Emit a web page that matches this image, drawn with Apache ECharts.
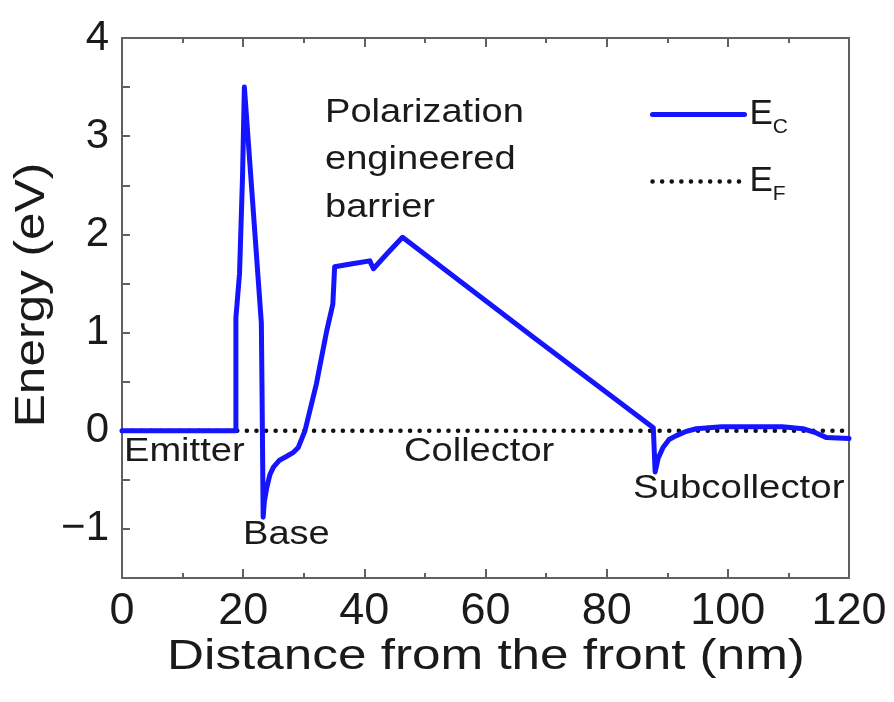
<!DOCTYPE html>
<html>
<head>
<meta charset="utf-8">
<title>Energy band diagram</title>
<script src="https://cdn.jsdelivr.net/npm/echarts@6/dist/echarts.min.js"></script>
<style>
  html, body { margin: 0; padding: 0; background: #fff; }
</style>
</head>
<body>
<div id="main" style="width:894px;height:702px;"></div>
<script>
// conduction band edge: [distance nm, energy eV]
var ecPoints = [
  [0, 0], [18.8, 0], [18.8, 1.15], [19.4, 1.6], [19.9, 2.6], [20.2, 3.5],
  [23.0, 1.1], [23.1, 0.5], [23.3, -0.88], [23.5, -0.72], [23.9, -0.58],
  [24.4, -0.45], [25.0, -0.37], [26.0, -0.3], [27.2, -0.26], [28.3, -0.22],
  [29.1, -0.17], [30.2, 0], [32.1, 0.48], [33.8, 1.02], [34.8, 1.29],
  [35.1, 1.67], [38.0, 1.7], [40.9, 1.73], [41.5, 1.65], [43.7, 1.80],
  [46.3, 1.97], [68.4, 0.93], [87.7, 0.03], [88.0, -0.42], [88.5, -0.28],
  [89.3, -0.17], [90.3, -0.09], [91.5, -0.05], [93.0, -0.01], [94.8, 0.02],
  [99.0, 0.04], [104.2, 0.04], [109.0, 0.04], [112.4, 0.02], [114.5, -0.02],
  [116.3, -0.07], [120, -0.08]
];
// Fermi level
var efPoints = [[0, 0], [120, 0]];
var seriesNames = ['E_C', 'E_F'];
var yTicks = [-1, 0, 1, 2, 3, 4];
var regionLabels = ['Emitter', 'Base', 'Collector', 'Subcollector'];
var barrierLabel = ['Polarization', 'engineered', 'barrier'];

var chart = echarts.init(document.getElementById('main'));
var font = 'Liberation Sans, Arial, sans-serif';
var ink = '#1a1a1a';
var boxColor = '#606060';

function label(text, x, y, size, sx, extra) {
  var g = {
    type: 'text', x: x, y: y, scaleX: sx || 1,
    style: { text: text, font: size + 'px ' + font, fill: ink, align: 'left', verticalAlign: 'middle' }
  };
  if (extra) { for (var k in extra) g[k] = extra[k]; }
  return g;
}

chart.setOption({
  animation: false,
  grid: { left: 122, top: 38, right: 45, bottom: 124, show: false },
  legend: {
    orient: 'vertical',
    left: 645, top: 92,
    itemWidth: 92, itemHeight: 20, itemGap: 26,
    itemStyle: { opacity: 0 },
    data: [
      { name: seriesNames[0], lineStyle: { width: 5 } },
      { name: seriesNames[1], lineStyle: { width: 4.5 } }
    ],
    textStyle: {
      color: ink, fontFamily: font,
      rich: {
        m: { fontSize: 35, fontFamily: font, color: ink },
        s: { fontSize: 21, fontFamily: font, color: ink, padding: [26, 0, 0, 0] }
      }
    },
    formatter: function (name) {
      return name === 'E_C' ? '{m|E}{s|C}' : '{m|E}{s|F}';
    }
  },
  xAxis: [{
    type: 'value', min: 0, max: 120, interval: 20,
    axisLine: { onZero: false, lineStyle: { color: boxColor, width: 2 } },
    axisTick: { inside: true, length: 9, lineStyle: { color: boxColor, width: 2 } },
    minorTick: { show: true, splitNumber: 2, length: 5, lineStyle: { color: boxColor, width: 2 } },
    axisLabel: { fontSize: 45, color: ink, fontFamily: font, margin: 11 },
    splitLine: { show: false }
  }, {
    type: 'value', min: 0, max: 120, interval: 20, position: 'top',
    axisLine: { show: true, onZero: false, lineStyle: { color: boxColor, width: 2 } },
    axisTick: { inside: true, length: 9, lineStyle: { color: boxColor, width: 2 } },
    minorTick: { show: true, splitNumber: 2, length: 5, lineStyle: { color: boxColor, width: 2 } },
    axisLabel: { show: false },
    splitLine: { show: false }
  }],
  yAxis: [{
    type: 'value', min: -1.5, max: 4, interval: 0.5,
    axisLine: { show: true, onZero: false, lineStyle: { color: boxColor, width: 2 } },
    axisTick: { inside: true, length: 8, lineStyle: { color: boxColor, width: 2 } },
    axisLabel: {
      fontSize: 42, color: ink, fontFamily: font, margin: 13,
      formatter: function (v) {
        return yTicks.indexOf(v) >= 0 ? (v < 0 ? '\u2212' + Math.abs(v) : String(v)) : '';
      }
    },
    splitLine: { show: false }
  }, {
    type: 'value', min: -1.5, max: 4, interval: 0.5, position: 'right',
    axisLine: { show: true, onZero: false, lineStyle: { color: boxColor, width: 2 } },
    axisTick: { show: false },
    axisLabel: { show: false },
    splitLine: { show: false }
  }],
  series: [{
    name: 'E_F', type: 'line', data: efPoints, symbol: 'none', z: 1,
    lineStyle: { color: '#111', width: 4.5, type: [0.1, 9.5], cap: 'round' }
  }, {
    name: 'E_C', type: 'line', data: ecPoints, symbol: 'none', z: 2,
    lineStyle: { color: '#1414ff', width: 5, join: 'round', cap: 'round' }
  }],
  graphic: [
    label('Distance from the front (nm)', 486, 657, 42, 1.22, { style: { text: 'Distance from the front (nm)', font: '42px ' + font, fill: ink, align: 'center', verticalAlign: 'middle' } }),
    label('Energy (eV)', 32, 295, 42, 1.18, { rotation: Math.PI / 2, style: { text: 'Energy (eV)', font: '42px ' + font, fill: ink, align: 'center', verticalAlign: 'middle' } }),
    label(barrierLabel[0], 325, 113, 34, 1.12),
    label(barrierLabel[1], 325, 160, 34, 1.12),
    label(barrierLabel[2], 325, 208, 34, 1.12),
    label(regionLabels[0], 124, 452, 34, 1.12),
    label(regionLabels[1], 243, 535, 34, 1.12),
    label(regionLabels[2], 404, 452, 34, 1.12),
    label(regionLabels[3], 633, 489, 34, 1.13)
  ]
});
</script>
</body>
</html>
